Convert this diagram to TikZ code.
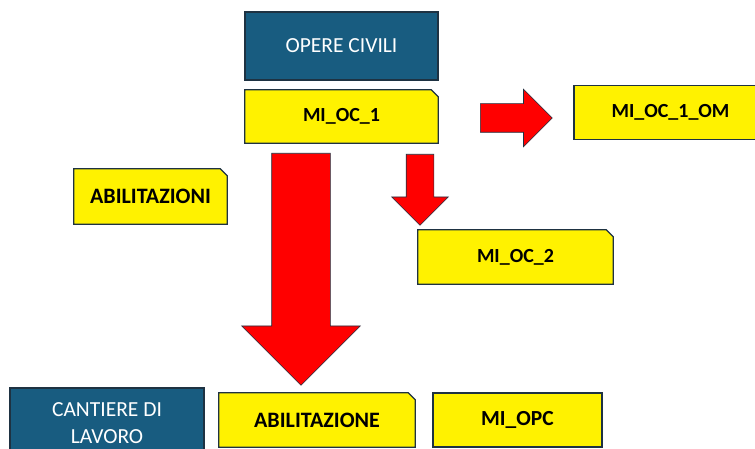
\documentclass[tikz,border=0pt]{standalone}
\usepackage{fontspec}
\setmainfont{Carlito}
\usepackage{xcolor}
\usetikzlibrary{shapes.arrows,backgrounds}
\definecolor{tealbox}{RGB}{24,92,128}
\definecolor{edgeline}{RGB}{30,50,66}
\newcommand{\snipframe}[1]{%
  \begin{scope}[on background layer]
    \draw[snipline] (#1.south west) -- (#1.north west) -- ([xshift=-7pt]#1.north east)
      -- ([yshift=-7pt]#1.north east) -- (#1.south east) -- cycle;
  \end{scope}}

\begin{document}
\begin{tikzpicture}[
    x=1pt, y=-1pt,
    head/.style={fill=tealbox, draw=edgeline, line width=1.2pt, text=white, font=\fontsize{21.5}{27}\selectfont, align=center, inner sep=0pt},
    doc/.style={fill=yellow, draw=edgeline, line width=1.2pt, font=\bfseries\fontsize{20}{24}\selectfont, inner sep=0pt},
    snipdoc/.style={font=\bfseries\fontsize{20}{24}\selectfont, inner sep=0pt},
    bigger/.style={font=\bfseries\fontsize{22}{26}\selectfont},
    snipline/.style={fill=yellow, draw=edgeline, line width=1.2pt},
    blockarr/.style={single arrow, fill=red, draw=edgeline, line width=0.6pt, inner xsep=0pt, single arrow tip angle=90, anchor=tail}
  ]
    \useasboundingbox (0,0) rectangle (755,449);
    \clip (0,0) rectangle (755,449);

    % upper part
    \node[head, minimum width=193pt, minimum height=68pt] (oc) at (341.5,46) {OPERE CIVILI};
    \node[snipdoc, minimum width=193pt, minimum height=53pt] (oc1) at (341.5,116.5) {MI\_OC\_1};
    \snipframe{oc1}
    \node[doc, minimum width=193pt, minimum height=54pt] (oc1om) at (670.5,112.5) {MI\_OC\_1\_OM};
    \node[snipdoc, bigger, minimum width=153pt, minimum height=55pt] (abil) at (150.5,196.5) {ABILITAZIONI};
    \snipframe{abil}
    \node[snipdoc, minimum width=195pt, minimum height=54pt] (oc2) at (515.5,257) {MI\_OC\_2};
    \snipframe{oc2}

    % lower part
    \node[head, minimum width=194pt, minimum height=70pt] (cant) at (107,423) {CANTIERE DI\\LAVORO};
    \node[snipdoc, bigger, minimum width=196pt, minimum height=54pt] (abil2) at (317,420) {ABILITAZIONE};
    \snipframe{abil2}
    \node[doc, font=\bfseries\fontsize{21.5}{26}\selectfont, minimum width=169pt, minimum height=54pt] (opc) at (517.5,420) {MI\_OPC};

    % block arrows
    \node[blockarr, minimum height=72pt, inner ysep=14pt, single arrow head extend=14.5pt] (toom) at (480,118) {};
    \node[blockarr, minimum height=71pt, inner ysep=13.5pt, single arrow head extend=14.5pt, rotate=-90] (tooc2) at (420,154) {};
    \node[blockarr, minimum height=232pt, inner ysep=29pt, single arrow head extend=30pt, rotate=-90] (toabil) at (301,153) {};
\end{tikzpicture}
\end{document}
